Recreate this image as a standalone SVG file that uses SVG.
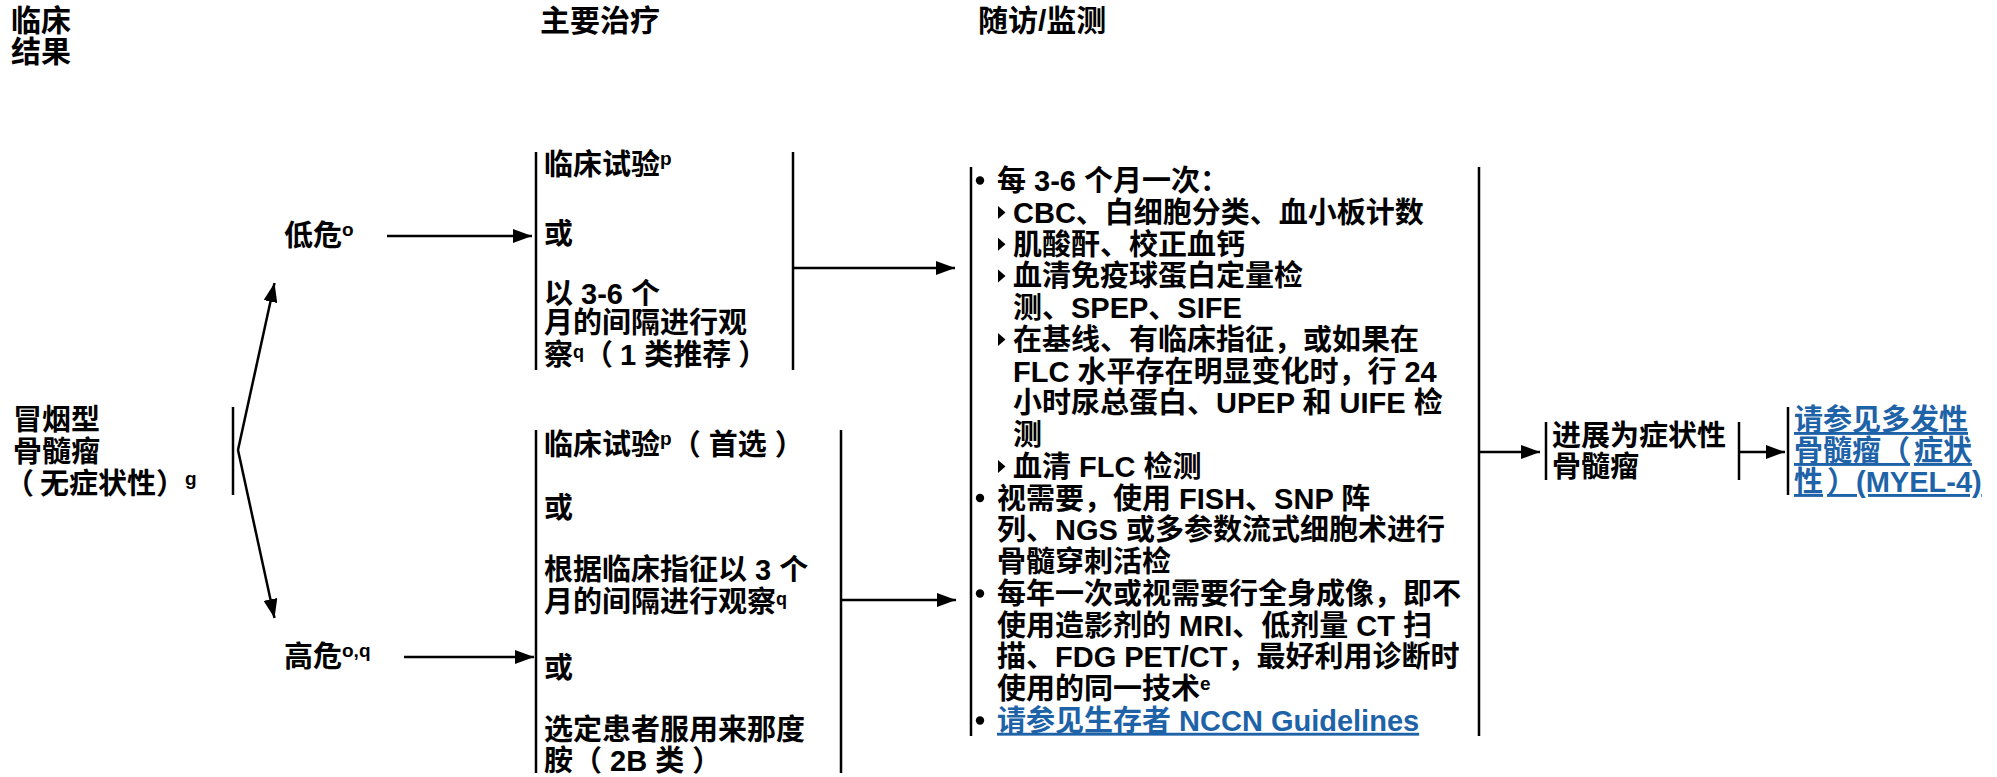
<svg xmlns="http://www.w3.org/2000/svg" width="1997" height="777" viewBox="0 0 1997 777">
<defs>
<style>
text{font-family:"Liberation Sans","Noto Sans CJK SC",sans-serif;font-weight:bold;font-size:29px;fill:#000}
.h{font-size:30px}
.sup{font-size:19px}
.sq{font-size:18px}
.ln{stroke:#000;stroke-width:2.5;fill:none}
.ar{stroke:#000;stroke-width:2.5;fill:none;marker-end:url(#ah)}
.lk{fill:#1E63A8;text-decoration:underline}
</style>
<marker id="ah" markerUnits="userSpaceOnUse" markerWidth="19" markerHeight="14" refX="19" refY="7" orient="auto"><path d="M0,0 L19,7 L0,14 z" fill="#000"/></marker>
<polygon id="tri" points="0,-6.5 7.5,0 0,6.5" fill="#000"/>
<circle id="dot" r="4.2" fill="#000"/>
</defs>
<rect width="1997" height="777" fill="#fff"/>

<g id="headers">
<text class="h" x="11" y="31">临床</text>
<text class="h" x="11" y="62">结果</text>
<text class="h" x="540" y="31">主要治疗</text>
<text class="h" x="978" y="31">随访/监测</text>
</g>

<g id="node-smm">
<text x="13" y="430">冒烟型</text>
<text x="13" y="462">骨髓瘤</text>
<text x="5" y="494">（<tspan dx="6">无症状性</tspan>）<tspan class="sup" dy="-9">g</tspan></text>
<line class="ln" x1="233" y1="407" x2="233" y2="495"/>
</g>

<g id="node-low">
<text x="284" y="246">低危<tspan class="sup" dy="-10">o</tspan></text>
</g>
<g id="node-high">
<text x="284" y="667">高危<tspan class="sup" dy="-10">o,q</tspan></text>
</g>

<g id="node-low-tx">
<line class="ln" x1="536" y1="152" x2="536" y2="370"/>
<line class="ln" x1="793" y1="152" x2="793" y2="370"/>
<text x="544" y="175">临床试验<tspan class="sup" dy="-10">p</tspan></text>
<text x="544" y="244">或</text>
<text x="544" y="304">以 3-6 个</text>
<text x="544" y="333">月的间隔进行观</text>
<text x="544" y="365">察<tspan class="sq" dy="-7">q</tspan><tspan dy="7">（</tspan><tspan dx="7">1 类推荐</tspan><tspan dx="7">）</tspan></text>
</g>

<g id="node-high-tx">
<line class="ln" x1="536" y1="430" x2="536" y2="773"/>
<line class="ln" x1="841" y1="430" x2="841" y2="773"/>
<text x="544" y="455">临床试验<tspan class="sup" dy="-10">p</tspan><tspan dy="10">（</tspan><tspan dx="8">首选</tspan><tspan dx="8">）</tspan></text>
<text x="544" y="518">或</text>
<text x="544" y="580">根据临床指征以 3 个</text>
<text x="544" y="612">月的间隔进行观察<tspan class="sq" dy="-7">q</tspan></text>
<text x="544" y="678">或</text>
<text x="544" y="740">选定患者服用来那度</text>
<text x="544" y="771">胺（<tspan dx="8">2B 类</tspan><tspan dx="8">）</tspan></text>
</g>

<g id="node-followup">
<line class="ln" x1="971" y1="167" x2="971" y2="736"/>
<line class="ln" x1="1479" y1="167" x2="1479" y2="736"/>
<use href="#dot" x="980" y="180.5"/><text x="997" y="191">每 3-6 个月一次：</text>
<use href="#tri" x="998" y="212.5"/><text x="1013" y="222.75">CBC、白细胞分类、血小板计数</text>
<use href="#tri" x="998" y="244.25"/><text x="1013" y="254.5">肌酸酐、校正血钙</text>
<use href="#tri" x="998" y="276"/><text x="1013" y="286.25">血清免疫球蛋白定量检</text>
<text x="1013" y="318">测、SPEP、SIFE</text>
<use href="#tri" x="998" y="339.5"/><text x="1013" y="349.75">在基线、有临床指征，或如果在</text>
<text x="1013" y="381.5">FLC 水平存在明显变化时，行 24</text>
<text x="1013" y="413.25">小时尿总蛋白、UPEP 和 UIFE 检</text>
<text x="1013" y="445">测</text>
<use href="#tri" x="998" y="466.5"/><text x="1013" y="476.75">血清 FLC 检测</text>
<use href="#dot" x="980" y="498"/><text x="997" y="508.5">视需要，使用 FISH、SNP 阵</text>
<text x="997" y="540.25">列、NGS 或多参数流式细胞术进行</text>
<text x="997" y="572">骨髓穿刺活检</text>
<use href="#dot" x="980" y="593.5"/><text x="997" y="603.75">每年一次或视需要行全身成像，即不</text>
<text x="997" y="635.5">使用造影剂的 MRI、低剂量 CT 扫</text>
<text x="997" y="667.25">描、FDG PET/CT，最好利用诊断时</text>
<text x="997" y="699">使用的同一技术<tspan class="sup" dy="-9">e</tspan></text>
<use href="#dot" x="980" y="720.5"/><text class="lk" x="997" y="730.75">请参见生存者 NCCN Guidelines</text>
</g>

<g id="node-progress">
<line class="ln" x1="1546" y1="422" x2="1546" y2="480"/>
<line class="ln" x1="1739" y1="422" x2="1739" y2="480"/>
<text x="1552" y="446">进展为症状性</text>
<text x="1552" y="477">骨髓瘤</text>
</g>

<g id="node-link">
<line class="ln" x1="1788" y1="407" x2="1788" y2="495"/>
<text class="lk" x="1794" y="430">请参见多发性</text>
<text class="lk" x="1794" y="461">骨髓瘤（<tspan dx="4">症状</tspan></text>
<text class="lk" x="1794" y="492">性<tspan dx="4">）</tspan>(MYEL-4)</text>
</g>

<g id="connectors">
<line class="ar" x1="238" y1="450" x2="274.5" y2="283"/>
<line class="ar" x1="238" y1="450" x2="274.5" y2="618"/>
<line class="ar" x1="387" y1="236" x2="532" y2="236"/>
<line class="ar" x1="404" y1="657" x2="534" y2="657"/>
<line class="ar" x1="793" y1="268" x2="955" y2="268"/>
<line class="ar" x1="841" y1="600" x2="956" y2="600"/>
<line class="ar" x1="1480" y1="452" x2="1540" y2="452"/>
<line class="ar" x1="1739" y1="452" x2="1785" y2="452"/>
</g>
</svg>
